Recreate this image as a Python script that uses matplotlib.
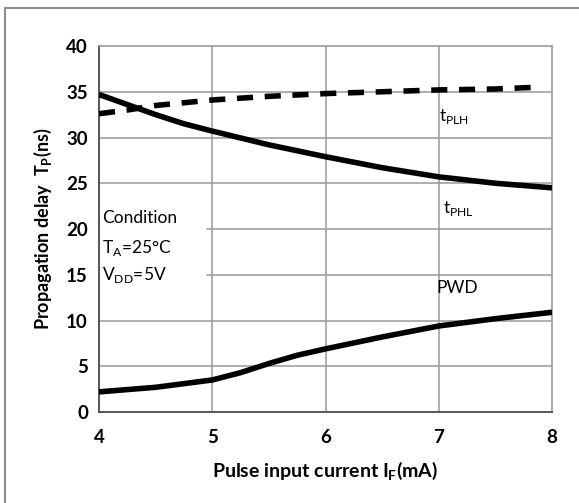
import matplotlib
matplotlib.use("Agg")
import matplotlib.pyplot as plt
from matplotlib.patches import Rectangle

plt.rcParams['font.family'] = ['Lato', 'DejaVu Sans']

# Data
x_phl = [4.0, 4.25, 4.5, 4.75, 5.0, 5.5, 6.0, 6.5, 7.0, 7.5, 8.0]
t_phl = [34.7, 33.6, 32.5, 31.5, 30.7, 29.2, 27.9, 26.7, 25.7, 25.0, 24.5]

x_plh = [4.0, 4.25, 4.5, 4.75, 5.0, 5.5, 6.0, 6.5, 7.0, 7.5, 7.88]
t_plh = [32.6, 33.0, 33.5, 33.8, 34.1, 34.5, 34.8, 35.0, 35.2, 35.3, 35.5]

x_pwd = [4.0, 4.5, 5.0, 5.25, 5.5, 5.75, 6.0, 6.5, 7.0, 7.5, 8.0]
pwd = [2.2, 2.7, 3.5, 4.3, 5.3, 6.2, 6.9, 8.2, 9.4, 10.2, 10.9]

xticks = [4, 5, 6, 7, 8]
yticks = [0, 5, 10, 15, 20, 25, 30, 35, 40]

fig = plt.figure(figsize=(5.79, 5.03), dpi=100)
fig.patch.set_facecolor('white')
# outer frame (open to the right/bottom as in reference)
fig.add_artist(Rectangle((5/579, -0.1), 1.2, 1 - 8/503 + 0.1, transform=fig.transFigure,
                         fill=False, edgecolor='#8c8c8c', linewidth=1.5))

ax = fig.add_axes([99/579, 1 - 412/503, (552 - 99)/579, (412 - 46)/503])
ax.set_xlim(4, 8)
ax.set_ylim(0, 40)

# grid
for xv in xticks[1:-1]:
    ax.axvline(xv, color='#999999', lw=1.1, zorder=1)
for yv in yticks[1:-1]:
    if yv in (15, 20):
        ax.plot([4.95, 8], [yv, yv], color='#999999', lw=1.1, zorder=1)
    else:
        ax.axhline(yv, color='#999999', lw=1.1, zorder=1)

lw = 4.0
ax.plot(x_phl, t_phl, color='black', lw=lw, solid_capstyle='butt', zorder=3)
ax.plot(x_plh, t_plh, color='black', lw=lw, dashes=(2.9, 2.1), dash_capstyle='butt', zorder=3)
ax.plot(x_pwd, pwd, color='black', lw=lw, solid_capstyle='butt', zorder=3)

for side in ['top', 'right']:
    ax.spines[side].set_color('#999999')
    ax.spines[side].set_linewidth(1.2)
for side in ['left', 'bottom']:
    ax.spines[side].set_color('#555555')
    ax.spines[side].set_linewidth(1.4)

ax.set_xticks(xticks)
ax.set_yticks(yticks)
ax.tick_params(length=0, labelsize=13.5)
for lab in ax.get_xticklabels() + ax.get_yticklabels():
    lab.set_fontweight('bold')
ax.tick_params(axis='y', pad=8)
ax.tick_params(axis='x', pad=12)

ax.set_xlabel(r'Pulse input current I$_\mathregular{F}$(mA)', fontsize=14, fontweight='bold', labelpad=10)
ax.set_ylabel(r'Propagation delay  T$_\mathregular{P}$(ns)', fontsize=13, fontweight='bold', labelpad=9)

fs = 12.5
ax.text(7.0, 32.3, r't$_\mathregular{PLH}$', fontsize=fs, va='center', ha='left')
ax.text(7.04, 22.2, r't$_\mathregular{PHL}$', fontsize=fs, va='center', ha='left')
ax.text(6.98, 13.5, 'PWD', fontsize=fs, va='center', ha='left')
ax.text(4.03, 21.2, 'Condition', fontsize=fs, va='center', ha='left')
ax.text(4.03, 17.9, r'T$_\mathregular{A}$=25°C', fontsize=fs, va='center', ha='left')
ax.text(4.03, 15.0, r'V$_\mathregular{DD}$=5V', fontsize=fs, va='center', ha='left')

fig.savefig('out.png', dpi=100, facecolor='white')
